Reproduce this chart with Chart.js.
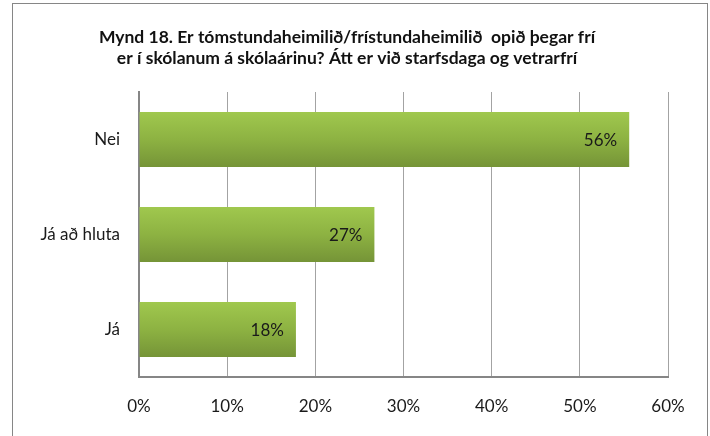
<!DOCTYPE html>
<html lang="is">
<head>
<meta charset="UTF-8">
<title>Mynd 18</title>
<script src="https://cdn.jsdelivr.net/npm/chart.js@4/dist/chart.umd.min.js"></script>
<style>
  html, body { margin: 0; padding: 0; background: #fff; }
  #wrap { width: 710px; height: 436px; }
</style>
</head>
<body>
<div id="wrap"><canvas id="chart" width="710" height="436"></canvas></div>
<script>
// Data
const TITLE_LINES = [
  'Mynd 18. Er tómstundaheimilið/frístundaheimilið  opið þegar frí',
  'er í skólanum á skólaárinu? Átt er við starfsdaga og vetrarfrí'
];
const CATEGORIES = ['Nei', 'Já að hluta', 'Já'];
const VALUES = [55.6, 26.7, 17.8];
const X_MIN = 0;
const X_MAX = 60;
const X_STEP = 10;

const FONT = 'Lato, "Open Sans", sans-serif';

// Frame + title drawn on the canvas
const frameTitle = {
  id: 'frameTitle',
  beforeDraw(chart) {
    const ctx = chart.ctx;
    ctx.save();
    ctx.strokeStyle = '#868686';
    ctx.lineWidth = 1;
    ctx.strokeRect(12.5, 3.5, 695, 440);
    ctx.fillStyle = '#111';
    ctx.font = 'bold 17.5px ' + FONT;
    ctx.textAlign = 'center';
    ctx.textBaseline = 'middle';
    TITLE_LINES.forEach((line, i) => ctx.fillText(line, 347, 37.5 + i * 20.5));
    ctx.restore();
  }
};

// Value labels inside the bar end
const barLabels = {
  id: 'barLabels',
  afterDatasetsDraw(chart) {
    const ctx = chart.ctx;
    const meta = chart.getDatasetMeta(0);
    ctx.save();
    ctx.fillStyle = '#1a1a1a';
    ctx.font = '17px ' + FONT;
    ctx.textAlign = 'right';
    ctx.textBaseline = 'middle';
    meta.data.forEach((bar, i) => {
      ctx.fillText(Math.round(VALUES[i]) + '%', bar.x - 12, bar.y + 1);
    });
    ctx.restore();
  }
};

function barGradient(context) {
  const chart = context.chart;
  const yScale = chart.scales.y;
  if (!chart.chartArea || !yScale) return '#8fb443';
  const band = (chart.chartArea.bottom - chart.chartArea.top) / CATEGORIES.length;
  const h = band * 0.58;
  const cy = yScale.getPixelForValue(context.dataIndex);
  const g = chart.ctx.createLinearGradient(0, cy - h / 2, 0, cy + h / 2);
  g.addColorStop(0, '#a0c84e');
  g.addColorStop(0.5, '#8db242');
  g.addColorStop(1, '#759437');
  return g;
}

new Chart(document.getElementById('chart'), {
  type: 'bar',
  data: {
    labels: CATEGORIES,
    datasets: [{
      data: VALUES,
      backgroundColor: barGradient,
      borderWidth: 0,
      barPercentage: 1,
      categoryPercentage: 0.58
    }]
  },
  options: {
    indexAxis: 'y',
    responsive: false,
    animation: false,
    layout: { padding: { top: 92, right: 42, bottom: 0, left: 0 } },
    plugins: {
      legend: { display: false },
      title: { display: false },
      tooltip: { enabled: false }
    },
    scales: {
      x: {
        min: X_MIN,
        max: X_MAX,
        ticks: {
          stepSize: X_STEP,
          padding: 19,
          color: '#1a1a1a',
          font: { family: FONT, size: 17 },
          callback: v => v + '%'
        },
        grid: { color: '#a3a3a3', lineWidth: 1, drawTicks: false },
        border: { color: '#868686', width: 2 },
        afterFit: s => { s.height = 59; }
      },
      y: {
        ticks: {
          padding: 19,
          color: '#1a1a1a',
          font: { family: FONT, size: 17 }
        },
        grid: { display: false, drawTicks: false },
        border: { color: '#868686', width: 2 },
        afterFit: s => { s.width = 139; }
      }
    }
  },
  plugins: [frameTitle, barLabels]
});
</script>
</body>
</html>
